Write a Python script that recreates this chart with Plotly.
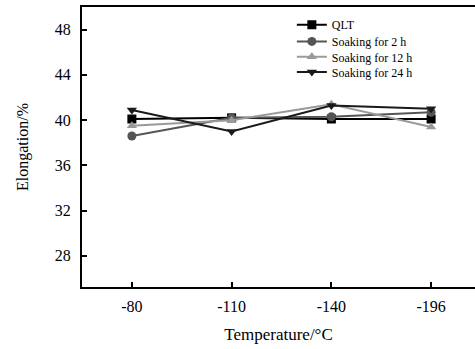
import plotly.graph_objects as go

temps = ["-80", "-110", "-140", "-196"]
qlt = [40.1, 40.2, 40.1, 40.1]
soak_2h = [38.6, 40.2, 40.3, 40.7]
soak_12h = [39.5, 40.0, 41.4, 39.4]
soak_24h = [40.9, 39.0, 41.3, 41.0]

series = [
    ("QLT", qlt, "#000000", "square"),
    ("Soaking for 2 h", soak_2h, "#555555", "circle"),
    ("Soaking for 12 h", soak_12h, "#9a9a9a", "triangle-up"),
    ("Soaking for 24 h", soak_24h, "#1a1a1a", "triangle-down"),
]
legend_ids = ["legend", "legend2", "legend3", "legend4"]
legend_y = [0.9366, 0.877, 0.822, 0.768]

font_family = "Liberation Serif, Times New Roman, serif"

fig = go.Figure()
for (name, vals, color, sym), lid in zip(series, legend_ids):
    fig.add_trace(go.Scatter(
        x=list(range(len(temps))), y=vals, name=name, mode="lines+markers",
        line=dict(color=color, width=2),
        marker=dict(symbol=sym, size=9, color=color),
        legend=lid,
    ))

legend_layout = {}
for lid, ly in zip(legend_ids, legend_y):
    legend_layout[lid] = dict(
        x=0.534, y=ly, xanchor="left", yanchor="middle",
        font=dict(size=12, family=font_family),
        bgcolor="rgba(0,0,0,0)", itemwidth=30,
    )

fig.update_layout(
    width=475, height=349,
    margin=dict(l=82, r=0, t=7, b=62),
    paper_bgcolor="white", plot_bgcolor="white",
    font=dict(family=font_family, color="black", size=16),
    showlegend=True,
    xaxis=dict(
        range=[-0.5, 3.44], tickmode="array",
        tickvals=list(range(len(temps))), ticktext=temps,
        showline=True, linecolor="black", linewidth=2, mirror=True,
        ticks="inside", ticklen=5, tickwidth=1.5, tickcolor="black",
        showgrid=False, zeroline=False, automargin=False,
        title=dict(text="Temperature/°C", font=dict(size=17), standoff=14),
        tickfont=dict(size=16), ticklabelstandoff=4,
    ),
    yaxis=dict(
        range=[25.25, 50.0], tickmode="array",
        tickvals=[28, 32, 36, 40, 44, 48],
        showline=True, linecolor="black", linewidth=2, mirror=False,
        ticks="inside", ticklen=5, tickwidth=1.5, tickcolor="black",
        showgrid=False, zeroline=False, automargin=False,
        title=dict(text="Elongation/%", font=dict(size=16), standoff=22),
        tickfont=dict(size=16), ticklabelstandoff=6,
    ),
    **legend_layout,
)

fig.write_html(
    "out.html",
    config={"displayModeBar": False},
    post_script="document.body.style.margin='0';document.body.style.overflow='hidden';",
)
